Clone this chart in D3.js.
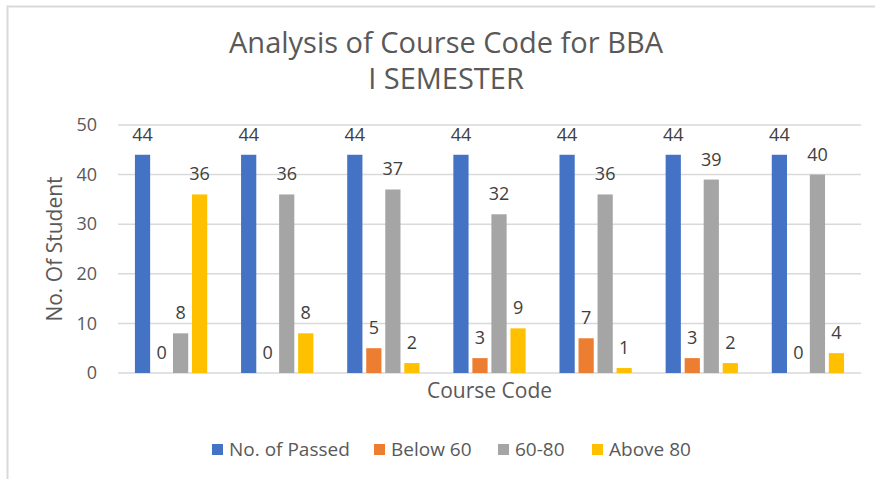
<!DOCTYPE html>
<html>
<head>
<meta charset="utf-8">
<script src="https://cdn.jsdelivr.net/npm/d3@7"></script>
<style>
  body { margin: 0; background: #fff; }
  svg { font-family: "Open Sans", sans-serif; }
</style>
</head>
<body>
<div id="chart"></div>
<script>
//Chart data
let categories = ["1", "2", "3", "4", "5", "6", "7"];
let seriesNames = ["No. of Passed", "Below 60", "60-80", "Above 80"];
let passed  = [44, 44, 44, 44, 44, 44, 44];
let below60 = [0, 0, 5, 3, 7, 3, 0];
let mid6080 = [8, 36, 37, 32, 36, 39, 40];
let above80 = [36, 8, 2, 9, 1, 2, 4];
let yTicks = [0, 10, 20, 30, 40, 50];
let colors = ["#4472C4", "#ED7D31", "#A5A5A5", "#FFC000"];
let titleLines = ["Analysis of Course Code for BBA", "I SEMESTER"];

let seriesValues = [passed, below60, mid6080, above80];

//Dimensions
let width = 875, height = 479;
let margin = {top: 125, right: 14, bottom: 106, left: 118};

let svg = d3.select("#chart").append("svg")
  .attr("width", width)
  .attr("height", height);

//Chart border
svg.append("rect")
  .attr("x", 7.5).attr("y", 6.5)
  .attr("width", width + 20).attr("height", height + 20)
  .attr("fill", "white")
  .attr("stroke", "#d9d9d9")
  .attr("stroke-width", 2);

let x0 = d3.scaleBand()
  .domain(categories)
  .range([margin.left, width - margin.right])
  .paddingInner(0.283)
  .paddingOuter(0.1415);

let x1 = d3.scaleBand()
  .domain(seriesNames)
  .range([0, x0.bandwidth()])
  .paddingInner(0.2)
  .paddingOuter(0.1);

let y = d3.scaleLinear()
  .domain([0, 50])
  .range([height - margin.bottom, margin.top]);

//Gridlines
svg.append("g")
  .selectAll("line")
  .data(yTicks)
  .enter()
  .append("line")
    .attr("x1", margin.left)
    .attr("x2", width - margin.right)
    .attr("y1", function(d) { return y(d); })
    .attr("y2", function(d) { return y(d); })
    .attr("stroke", "#d9d9d9")
    .attr("stroke-width", 1.5);

//Y axis (labels only)
let yAxis = svg.append("g")
  .attr("transform", "translate(" + margin.left + ",0)")
  .call(d3.axisLeft(y).tickValues(yTicks).tickSize(0).tickPadding(21));
yAxis.select(".domain").remove();
yAxis.selectAll("text")
  .attr("font-size", "18px")
  .attr("font-family", "'Open Sans', sans-serif")
  .attr("fill", "#595959");

//Bars grouped by category
let rows = categories.map(function(c, i) {
  return seriesNames.map(function(s, j) {
    return {cat: c, series: s, value: seriesValues[j][i], color: colors[j]};
  });
});

let group = svg.selectAll(".group")
  .data(rows)
  .enter()
  .append("g")
    .attr("class", "group")
    .attr("transform", function(d, i) { return "translate(" + x0(categories[i]) + ",0)"; });

group.selectAll("rect")
  .data(function(d) { return d; })
  .enter()
  .append("rect")
    .attr("x", function(d) { return x1(d.series); })
    .attr("y", function(d) { return y(d.value); })
    .attr("width", x1.bandwidth())
    .attr("height", function(d) { return y(0) - y(d.value); })
    .attr("fill", function(d) { return d.color; });

//Value labels
group.selectAll("text")
  .data(function(d) { return d; })
  .enter()
  .append("text")
    .attr("x", function(d) { return x1(d.series) + x1.bandwidth() / 2; })
    .attr("y", function(d) { return y(d.value) - 14; })
    .attr("text-anchor", "middle")
    .attr("font-size", "18px")
    .attr("fill", "#404040")
    .text(function(d) { return d.value; });

//Title - two separate lines
svg.selectAll(".title")
  .data(titleLines)
  .enter()
  .append("text")
    .attr("class", "title")
    .attr("x", 446)
    .attr("y", function(d, i) { return 53 + i * 36; })
    .attr("text-anchor", "middle")
    .attr("font-size", "29px")
    .attr("fill", "#595959")
    .text(function(d) { return d; });

//Axis titles
svg.append("text")
  .attr("x", (margin.left + width - margin.right) / 2)
  .attr("y", 398)
  .attr("text-anchor", "middle")
  .attr("font-size", "21px")
  .attr("fill", "#595959")
  .text("Course Code");

svg.append("text")
  .attr("transform", "translate(62," + (y(25)) + ") rotate(-90)")
  .attr("text-anchor", "middle")
  .attr("font-size", "21px")
  .attr("fill", "#595959")
  .text("No. Of Student");

//Legend
let legendX = [212, 374, 498, 592];
let legend = svg.selectAll(".legend")
  .data(seriesNames)
  .enter()
  .append("g")
    .attr("class", "legend")
    .attr("transform", function(d, i) { return "translate(" + legendX[i] + ",444)"; });

legend.append("rect")
  .attr("width", 11)
  .attr("height", 11)
  .attr("fill", function(d, i) { return colors[i]; });

legend.append("text")
  .attr("x", 17)
  .attr("y", 12)
  .attr("font-size", "19px")
  .attr("fill", "#595959")
  .text(function(d) { return d; });
</script>
</body>
</html>
